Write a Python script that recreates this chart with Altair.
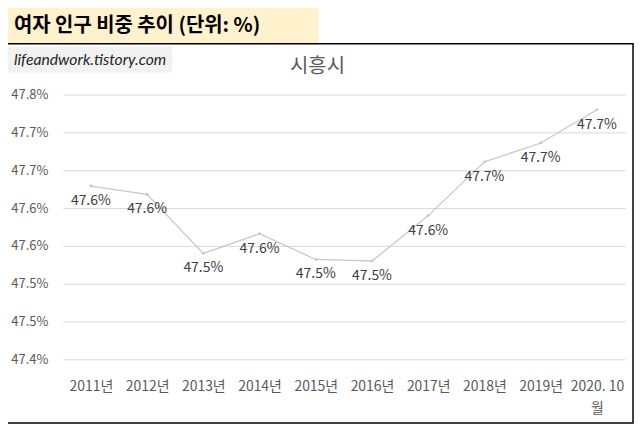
import altair as alt
import pandas as pd

# values (percent)
years = ["2011년", "2012년", "2013년", "2014년", "2015년", "2016년",
         "2017년", "2018년", "2019년", "2020. 10|월"]
female_share = [47.629, 47.618, 47.540, 47.566, 47.532, 47.530,
                47.590, 47.661, 47.686, 47.730]
y_ticks = [47.40, 47.45, 47.50, 47.55, 47.60, 47.65, 47.70, 47.75]

main_title = "여자 인구 비중 추이 (단위: %)"
chart_title = "시흥시"
watermark = "lifeandwork.tistory.com"

FONT = "Noto Sans CJK KR"
LINE_GRAY = "#C9C9C9"

df = pd.DataFrame({"year": years, "share": female_share})

x_enc = alt.X("year:N", sort=years, title=None,
              scale=alt.Scale(padding=0.5),
              axis=alt.Axis(labelAngle=0, domain=False, ticks=False, grid=False,
                            labelFont=FONT, labelFontSize=14, labelColor="#595959",
                            labelPadding=20, labelBaseline="top", labelLineHeight=22,
                            labelExpr="split(datum.label, '|')"))
y_enc = alt.Y("share:Q", title=None,
              scale=alt.Scale(domain=[47.40, 47.75], zero=False, nice=False),
              axis=alt.Axis(values=y_ticks, domain=False, ticks=False,
                            gridColor="#D9D9D9", gridWidth=1,
                            labelFont=FONT, labelFontSize=13, labelColor="#595959",
                            labelPadding=15,
                            labelExpr="format(datum.value + 0.0001, '.1f') + '%'"))

base = alt.Chart(df).encode(x=x_enc, y=y_enc)
line = base.mark_line(color=LINE_GRAY, strokeWidth=1.3)
dots = base.mark_circle(color=LINE_GRAY, size=9, opacity=1)
labels = base.transform_calculate(
    lbl="format(datum.share, '.1f') + '%'"
).mark_text(font=FONT, fontSize=14, color="#404040", dy=15,
            baseline="middle").encode(text="lbl:N")

one = pd.DataFrame({"a": [0]})
deco = alt.Chart(one)
title_box = deco.mark_rect(fill="#FFF2CC").encode(
    x=alt.value(-59), x2=alt.value(257), y=alt.value(-88), y2=alt.value(-51))
border = deco.mark_rect(fill="transparent", stroke="black", strokeWidth=1.5).encode(
    x=alt.value(-59), x2=alt.value(573), y=alt.value(-51), y2=alt.value(330))
wm_box = deco.mark_rect(fill="#F2F2F2").encode(
    x=alt.value(-55), x2=alt.value(110), y=alt.value(-48), y2=alt.value(-22))
title_txt = alt.Chart(pd.DataFrame({"t": [main_title]})).mark_text(
    font=FONT, fontSize=20, fontWeight="bold", color="black",
    align="left", baseline="middle").encode(
    x=alt.value(-49), y=alt.value(-69), text="t:N")
wm_txt = alt.Chart(pd.DataFrame({"t": [watermark]})).mark_text(
    font="Lato", fontSize=15.8, fontStyle="italic", color="#262626",
    align="left", baseline="middle").encode(
    x=alt.value(-49), y=alt.value(-35), text="t:N")
sub_txt = alt.Chart(pd.DataFrame({"t": [chart_title]})).mark_text(
    font=FONT, fontSize=20, color="#595959",
    align="center", baseline="middle").encode(
    x=alt.value(256), y=alt.value(-28), text="t:N")

chart = alt.layer(
    title_box, border, wm_box, title_txt, wm_txt, sub_txt, line, dots, labels
).properties(
    width=565, height=266,
    background="white",
    autosize=alt.AutoSizeParams(type="none"),
    padding={"left": 55, "top": 86, "right": 10, "bottom": 66},
).configure_view(stroke=None, strokeWidth=0)

chart.save("out.html", embed_options={"renderer": "svg", "actions": False})
